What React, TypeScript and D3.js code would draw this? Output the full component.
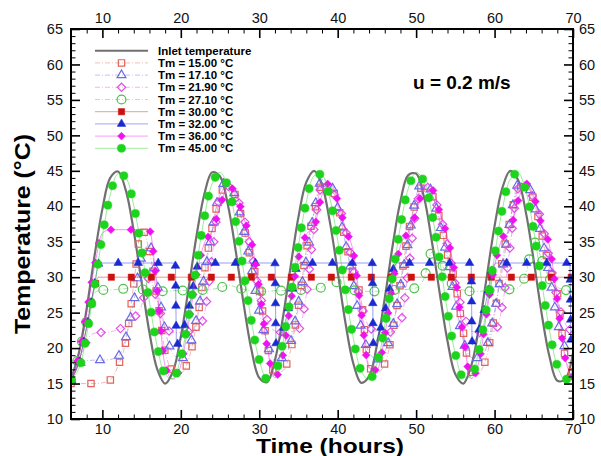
import { useEffect, useRef } from 'react';
import * as d3 from 'd3';

// hourly grid shared by most series
const hours = d3.range(6, 71);

const inletTemp = [
  15.6, 19.3, 25.6, 33.0, 39.6, 44.0, 44.9, 42.2, 36.5, 29.3,
  22.2, 17.0, 15.0, 16.7, 21.6, 28.5, 35.8, 41.7, 44.8, 44.2,
  40.2, 33.7, 26.3, 19.8, 15.8, 15.2, 18.3, 24.2, 31.5, 38.5,
  43.4, 45.0, 43.0, 37.8, 30.8, 23.5, 17.8, 15.1, 16.0, 20.4,
  27.0, 34.4, 40.7, 44.4, 44.6, 41.3, 35.1, 27.8, 21.0, 16.3,
  15.0, 17.4, 22.8, 30.0, 37.2, 42.6, 45.0, 43.7, 39.1, 32.3,
  24.9, 18.8, 15.4, 15.6, 19.3
];

const tm15Temp = [
  15.0, 15.0, 15.0, 15.0, 15.1, 15.5, 17.5, 21.0, 29.0, 36.8,
  33.6, 27.0, 19.5, 16.8, 16.5, 18.4, 23.4, 30.8, 37.0, 41.6,
  43.0, 41.4, 37.2, 32.2, 28.5, 20.6, 16.5, 16.8, 19.7, 26.0,
  33.8, 39.1, 43.0, 42.9, 40.2, 35.2, 30.3, 26.8, 17.4, 16.5,
  17.8, 22.3, 29.2, 36.3, 40.8, 43.0, 41.7, 38.2, 33.2, 29.1,
  22.4, 16.6, 16.6, 18.9, 24.6, 32.4, 38.1, 42.4, 43.0, 40.9,
  36.2, 31.2, 27.9, 18.8, 16.5
];

const tm171Temp = [
  15.5, 17.8, 18.2, 18.3, 18.3, 18.4, 18.8, 21.5, 26.5, 33.0,
  34.5, 29.0, 22.5, 19.2, 18.5, 19.9, 24.1, 30.0, 36.6, 42.2,
  43.6, 41.2, 36.7, 31.4, 25.2, 20.7, 18.3, 18.7, 20.8, 26.4,
  32.4, 39.3, 43.8, 43.3, 39.7, 34.7, 29.1, 22.8, 19.4, 18.4,
  19.5, 23.0, 28.8, 35.2, 41.4, 43.7, 41.9, 37.7, 32.5, 26.5,
  21.1, 18.7, 18.6, 20.2, 25.2, 31.2, 38.0, 43.1, 43.5, 40.5,
  35.7, 30.3, 23.9, 20.0, 18.4
];

const tm219Temp = [
  15.5, 18.0, 21.0, 22.1, 22.2, 22.3, 22.6, 23.2, 24.2, 26.0,
  30.0, 26.5, 23.0, 22.2, 22.2, 22.3, 22.4, 24.8, 33.0, 41.5,
  42.8, 41.5, 38.5, 33.5, 28.0, 24.0, 22.4, 22.2, 22.3, 22.6,
  27.5, 37.0, 42.8, 42.4, 40.6, 36.7, 31.2, 26.2, 23.0, 22.3,
  22.2, 22.3, 23.5, 31.0, 39.5, 43.0, 41.8, 39.0, 34.5, 29.0,
  25.0, 22.4, 22.2, 22.3, 22.4, 26.0, 34.5, 42.5, 42.8, 41.0,
  37.8, 32.5, 27.0, 23.5, 22.3
];

const tm271Temp = [
  15.5, 19.0, 24.0, 27.8, 28.2, 28.2, 28.3, 28.4, 28.6, 28.3,
  28.2, 28.1, 28.0, 28.1, 28.1, 28.2, 28.2, 28.2, 28.3, 28.5,
  28.9, 28.6, 28.3, 28.1, 28.0, 28.0, 28.1, 28.1, 28.2, 28.2,
  28.2, 28.3, 28.6, 29.7, 29.2, 28.5, 28.2, 28.0, 28.0, 28.0,
  28.1, 28.2, 28.2, 28.3, 28.5, 29.8, 33.5, 32.5, 30.0, 28.6,
  28.2, 28.0, 28.0, 28.1, 28.2, 28.2, 28.3, 28.5, 30.5, 35.0,
  32.5, 29.8, 28.6, 28.2, 28.1
];

const tm30Hours = [6, 7, 8, 9, 9.5, 20, 30, 40, 50, 60, 70];
const tm30Temp = [15.5, 18.0, 23.0, 28.6, 30.0, 30.0, 30.0, 30.0, 30.0, 30.0, 30.0];

const tm32Hours = [
  6, 7, 8, 9, 9.6,
  19.3, 19.45, 20.3, 21.3, 22.1, 22.5,
  32.0, 32.15, 33.0, 34.0, 34.8, 35.2,
  44.4, 44.55, 45.4, 46.4, 47.2, 47.6,
  57.0, 57.15, 58.0, 59.0, 59.8, 60.2,
  69.6, 69.75, 70
];
const tm32Temp = [
  15.5, 18.0, 23.0, 29.0, 32.0,
  32.0, 20.5, 22.5, 27.0, 31.5, 32.0,
  32.0, 20.5, 22.5, 27.0, 31.5, 32.0,
  32.0, 20.5, 22.5, 27.0, 31.5, 32.0,
  32.0, 20.5, 22.5, 27.0, 31.5, 32.0,
  32.0, 21.0, 21.3
];

const tm36Temp = [
  15.5, 19.0, 25.0, 31.5, 36.2, 36.7, 36.7, 36.7, 36.7, 36.7,
  36.6, 28.0, 17.5, 15.6, 17.6, 23.5, 30.3, 34.8, 36.5, 39.9,
  42.8, 41.9, 38.4, 35.0, 28.4, 20.2, 15.8, 18.9, 26.4, 32.7,
  36.0, 37.1, 41.6, 43.3, 40.8, 36.8, 33.5, 25.0, 17.2, 16.9,
  21.8, 29.1, 34.4, 36.4, 39.0, 42.4, 42.4, 39.2, 35.6, 30.1,
  21.8, 15.7, 18.0, 25.0, 31.6, 35.5, 36.7, 40.8, 43.2, 41.4,
  37.4, 34.4, 26.7, 18.6, 15.8
];

const tm45Temp = [
  15.5, 17.1, 21.9, 28.7, 35.8, 41.6, 44.6, 44.0, 40.1, 33.8,
  26.5, 20.2, 16.3, 15.7, 18.7, 24.5, 31.6, 38.4, 43.2, 44.8,
  42.8, 37.8, 30.9, 23.8, 18.3, 15.6, 16.5, 20.7, 27.2, 34.5,
  40.6, 44.3, 44.4, 41.1, 35.2, 28.0, 21.3, 16.8, 15.5, 17.8,
  23.1, 30.1, 37.2, 42.5, 44.8, 43.5, 39.0, 32.4, 25.2, 19.2,
  15.9, 16.0, 19.7, 25.8, 33.0, 39.6, 43.8, 44.7, 42.1, 36.5,
  29.4, 22.5, 17.5, 15.5, 17.1
];

const legendLabels = [
  'Inlet temperature',
  'Tm = 15.00 \u00b0C',
  'Tm = 17.10 \u00b0C',
  'Tm = 21.90 \u00b0C',
  'Tm = 27.10 \u00b0C',
  'Tm = 30.00 \u00b0C',
  'Tm = 32.00 \u00b0C',
  'Tm = 36.00 \u00b0C',
  'Tm = 45.00 \u00b0C'
];

const xTicks = [10, 20, 30, 40, 50, 60, 70];
const yTicks = [10, 15, 20, 25, 30, 35, 40, 45, 50, 55, 60, 65];

const FONT = 'Liberation Sans, Arial, Helvetica, sans-serif';

function App() {
  const svgRef = useRef<SVGSVGElement>(null);

  useEffect(() => {
    drawChart()
    // eslint-disable-next-line
  }, [])

  function markerPath(shape: string, size: number) {
    const type = shape === 'circle' ? d3.symbolCircle
      : shape === 'triangle' ? d3.symbolTriangle
      : d3.symbolSquare
    return d3.symbol().type(type).size(size)() as string
  }

  function drawChart() {
    const config = { width: 601, height: 456, left: 71, right: 573, top: 29, bottom: 419 }

    const svg = d3.select(svgRef.current)
    svg.selectAll('*').remove()

    const xScale = d3.scaleLinear().domain([6, 70]).range([config.left, config.right])
    const yScale = d3.scaleLinear().domain([10, 65]).range([config.bottom, config.top])

    const series = [
      { hours, temps: tm15Temp, color: '#e2645a', shape: 'square', filled: false, size: 40, dash: '5,2,1,2', curve: d3.curveMonotoneX },
      { hours, temps: tm171Temp, color: '#6a6ae6', shape: 'triangle', filled: false, size: 34, dash: '5,2,1,2', curve: d3.curveMonotoneX },
      { hours, temps: tm219Temp, color: '#e050e6', shape: 'diamond', filled: false, size: 34, dash: '5,2,1,2', curve: d3.curveMonotoneX },
      { hours, temps: tm271Temp, color: '#4cc24c', shape: 'circle', filled: false, size: 62, dash: '5,2,1,2', curve: d3.curveMonotoneX },
      { hours: tm30Hours, temps: tm30Temp, color: '#cc1010', shape: 'square', filled: true, size: 40, dash: null, curve: d3.curveMonotoneX },
      { hours: tm32Hours, temps: tm32Temp, color: '#1a2ad0', shape: 'triangle', filled: true, size: 32, dash: null, curve: d3.curveMonotoneX },
      { hours, temps: tm36Temp, color: '#f010f0', shape: 'diamond', filled: true, size: 30, dash: null, curve: d3.curveMonotoneX },
      { hours, temps: tm45Temp, color: '#1cd41c', shape: 'circle', filled: true, size: 52, dash: null, curve: d3.curveCatmullRom }
    ]

    svg.append('defs').append('clipPath').attr('id', 'plot-clip')
      .append('rect')
      .attr('x', config.left).attr('y', config.top)
      .attr('width', config.right - config.left).attr('height', config.bottom - config.top)

    const plot = svg.append('g').attr('clip-path', 'url(#plot-clip)')

    // inlet temperature
    const inletLine = d3.line<number>()
      .x((d, i) => xScale(hours[i]))
      .y(d => yScale(d))
      .curve(d3.curveCatmullRom)
    plot.append('path')
      .attr('d', inletLine(inletTemp))
      .style('fill', 'none')
      .style('stroke', '#707070')
      .style('stroke-width', 2.2)

    series.forEach(s => {
      const line = d3.line<number>()
        .x((d, i) => xScale(s.hours[i]))
        .y(d => yScale(d))
        .curve(s.curve)
      const path = plot.append('path')
        .attr('d', line(s.temps))
        .style('fill', 'none')
        .style('stroke', s.color)
        .style('stroke-width', 0.9)
        .style('opacity', 0.5)
      if (s.dash) path.style('stroke-dasharray', s.dash)

      // symbols spaced along the curve like the original plot
      const node = path.node() as SVGPathElement
      const total = node.getTotalLength()
      const points = d3.range(0, total, 20).map(l => node.getPointAtLength(l))
      plot.append('g').selectAll('path')
        .data(points)
        .enter()
        .append('path')
        .attr('d', markerPath(s.shape, s.size))
        .attr('transform', p => `translate(${p.x},${p.y})` + (s.shape === 'diamond' ? ' rotate(45)' : ''))
        .style('fill', s.filled ? s.color : 'none')
        .style('stroke', s.color)
        .style('stroke-width', s.filled ? 0.5 : 1.2)
    })

    // axes, ticks pointing inwards on all four sides
    const xMinor = d3.range(8, 70, 2).filter(v => v % 10 !== 0)
    const yMinor = d3.range(11, 65, 1).filter(v => v % 5 !== 0)

    const axisGroups = [
      { axis: d3.axisBottom(xScale).tickValues(xTicks).tickSize(-9).tickPadding(5), minor: d3.axisBottom(xScale).tickValues(xMinor).tickSize(-4.5), at: `translate(0,${config.bottom})` },
      { axis: d3.axisTop(xScale).tickValues(xTicks).tickSize(-9).tickPadding(6), minor: d3.axisTop(xScale).tickValues(xMinor).tickSize(-4.5), at: `translate(0,${config.top})` },
      { axis: d3.axisLeft(yScale).tickValues(yTicks).tickSize(-9).tickPadding(8), minor: d3.axisLeft(yScale).tickValues(yMinor).tickSize(-4.5), at: `translate(${config.left},0)` },
      { axis: d3.axisRight(yScale).tickValues(yTicks).tickSize(-9).tickPadding(6), minor: d3.axisRight(yScale).tickValues(yMinor).tickSize(-4.5), at: `translate(${config.right},0)` }
    ]

    axisGroups.forEach(a => {
      const g = svg.append('g').attr('transform', a.at).call(a.axis)
      g.select('.domain').remove()
      g.selectAll('line').style('stroke', '#000').style('stroke-width', 1.6)
      g.selectAll('text').style('font-family', FONT).style('font-size', '14.5px').style('fill', '#111')
      const m = svg.append('g').attr('transform', a.at).call(a.minor.tickFormat(() => ''))
      m.select('.domain').remove()
      m.selectAll('line').style('stroke', '#000').style('stroke-width', 1)
    })

    svg.append('rect')
      .attr('x', config.left).attr('y', config.top)
      .attr('width', config.right - config.left).attr('height', config.bottom - config.top)
      .style('fill', 'none')
      .style('stroke', '#000')
      .style('stroke-width', 2)

    // axis titles
    svg.append('text')
      .attr('x', 330)
      .attr('y', 452.5)
      .attr('text-anchor', 'middle')
      .attr('textLength', 148)
      .attr('lengthAdjust', 'spacingAndGlyphs')
      .style('font-family', FONT)
      .style('font-weight', 'bold')
      .style('font-size', '20.5px')
      .text('Time (hours)')

    svg.append('text')
      .attr('transform', 'translate(30,234) rotate(-90)')
      .attr('text-anchor', 'middle')
      .attr('textLength', 200)
      .attr('lengthAdjust', 'spacingAndGlyphs')
      .style('font-family', FONT)
      .style('font-weight', 'bold')
      .style('font-size', '22px')
      .text('Temperature (\u00b0C)')

    svg.append('text')
      .attr('x', 413)
      .attr('y', 89)
      .style('font-family', FONT)
      .style('font-weight', 'bold')
      .style('font-size', '19px')
      .text('u = 0.2 m/s')

    // legend
    const legend = svg.append('g')
    const rowY = (i: number) => 50.7 + i * 12.2
    legend.append('line')
      .attr('x1', 95).attr('x2', 148).attr('y1', rowY(0)).attr('y2', rowY(0))
      .style('stroke', '#707070').style('stroke-width', 2)
    series.forEach((s, i) => {
      const ly = rowY(i + 1)
      const l = legend.append('line')
        .attr('x1', 95).attr('x2', 148).attr('y1', ly).attr('y2', ly)
        .style('stroke', s.color).style('stroke-width', 0.9).style('opacity', 0.45)
      if (s.dash) l.style('stroke-dasharray', s.dash)
      legend.append('path')
        .attr('d', markerPath(s.shape, s.size))
        .attr('transform', `translate(121.5,${ly})` + (s.shape === 'diamond' ? ' rotate(45)' : ''))
        .style('fill', s.filled ? s.color : 'none')
        .style('stroke', s.color)
        .style('stroke-width', s.filled ? 0.5 : 1.2)
    })
    legend.selectAll('text')
      .data(legendLabels)
      .enter()
      .append('text')
      .attr('x', 158)
      .attr('y', (d, i) => rowY(i) + 4)
      .style('font-family', FONT)
      .style('font-weight', 'bold')
      .style('font-size', '11.5px')
      .text(d => d)
  }

  return (
    <div>
      <svg ref={svgRef} width={601} height={456}
        style={{ position: 'absolute', left: 0, top: 0, background: '#fff' }}>
      </svg>
    </div>
  )
}

export default App
